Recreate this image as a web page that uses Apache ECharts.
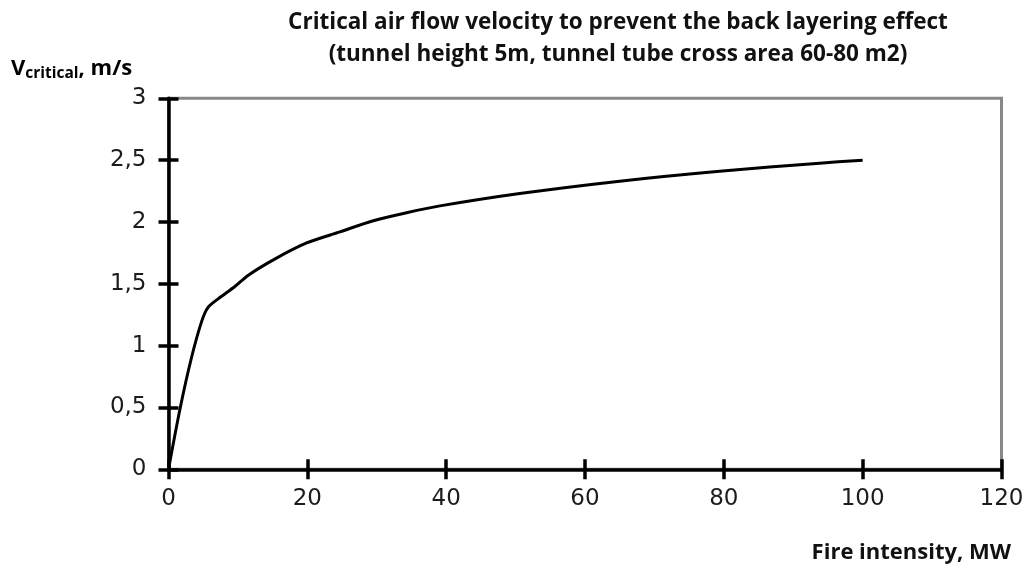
<!DOCTYPE html>
<html>
<head>
<meta charset="utf-8">
<script src="https://cdn.jsdelivr.net/npm/echarts@6/dist/echarts.min.js"></script>
<style>
  html, body { margin: 0; padding: 0; background: #fff; }
  #chart { width: 1031px; height: 573px; }
</style>
</head>
<body>
<div id="chart"></div>
<script>
// Fire intensity (MW) and critical velocity (m/s)
const fireIntensity = [0, 1.7, 3.3, 4.8, 5.7, 7.2, 9.6, 11.5, 15.3, 19.9, 24.7, 29.5, 34.3, 39.1, 50.6, 65, 79.4, 93.8, 100];
const criticalVelocity = [0, 0.5, 0.9, 1.2, 1.31, 1.38, 1.48, 1.57, 1.70, 1.83, 1.92, 2.01, 2.075, 2.13, 2.23, 2.33, 2.41, 2.475, 2.5];

const titleLines = [
  'Critical air flow velocity to prevent the back layering effect',
  '(tunnel height 5m, tunnel tube cross area 60-80 m2)'
];
const xName = 'Fire intensity, MW';

const chart = echarts.init(document.getElementById('chart'), null, { renderer: 'canvas' });

const labelFont = { fontFamily: 'DejaVu Sans, sans-serif', fontSize: 23, color: '#1c1c1c' };
const boldFont = 'Open Sans, Noto Sans, sans-serif';

const baseX = { type: 'value', min: 0, max: 120, interval: 20, splitLine: { show: false } };
const baseY = { type: 'value', min: 0, max: 3, interval: 0.5, splitLine: { show: false } };

chart.setOption({
  animation: false,
  backgroundColor: '#fff',
  title: {
    text: titleLines.join('\n'),
    left: 613,
    top: 2,
    textAlign: 'center',
    textStyle: { fontFamily: boldFont, fontWeight: 'bold', fontSize: 22.5, lineHeight: 32, color: '#111' }
  },
  grid: {
    left: 168.5, right: 29.5, top: 98.3, bottom: 103.7,
    show: true, borderColor: '#888', borderWidth: 3, backgroundColor: 'transparent'
  },
  graphic: [
    {
      type: 'text', left: 11, top: 58,
      style: {
        text: '{v|V}{s|critical}{u|, m/s}',
        rich: {
          v: { fontFamily: boldFont, fontWeight: 'bold', fontSize: 22, color: '#111', verticalAlign: 'bottom', lineHeight: 28 },
          s: { fontFamily: boldFont, fontWeight: 'bold', fontSize: 15.5, color: '#111', verticalAlign: 'bottom', lineHeight: 28, padding: [0, 0, -2, 0] },
          u: { fontFamily: boldFont, fontWeight: 'bold', fontSize: 22, color: '#111', verticalAlign: 'bottom', lineHeight: 28 }
        }
      }
    },
    {
      type: 'text', right: 20, top: 542,
      style: { text: xName, fontFamily: boldFont, fontWeight: 'bold', fontSize: 22, fill: '#111' }
    }
  ],
  xAxis: [
    Object.assign({}, baseX, {
      position: 'bottom',
      axisLine: { show: true, onZero: false, lineStyle: { color: '#000', width: 3.5 } },
      axisTick: { show: true, inside: false, length: 10, lineStyle: { color: '#000', width: 3.5 } },
      axisLabel: Object.assign({ margin: 18 }, labelFont)
    }),
    Object.assign({}, baseX, {
      position: 'bottom',
      axisLine: { show: false },
      axisTick: { show: true, inside: true, length: 10, lineStyle: { color: '#000', width: 3.5 } },
      axisLabel: { show: false }
    })
  ],
  yAxis: [
    Object.assign({}, baseY, {
      position: 'left',
      axisLine: { show: true, onZero: false, lineStyle: { color: '#000', width: 3.5 } },
      axisTick: { show: true, inside: false, length: 10, lineStyle: { color: '#000', width: 3.5 } },
      axisLabel: Object.assign({ margin: 22, formatter: v => String(v).replace('.', ',') }, labelFont)
    }),
    Object.assign({}, baseY, {
      position: 'left',
      axisLine: { show: false },
      axisTick: { show: true, inside: true, length: 10, lineStyle: { color: '#000', width: 3.5 } },
      axisLabel: { show: false }
    })
  ],
  series: [{
    type: 'line',
    xAxisIndex: 0,
    yAxisIndex: 0,
    data: fireIntensity.map((x, i) => [x, criticalVelocity[i]]),
    showSymbol: false,
    smooth: 0.3,
    lineStyle: { color: '#000', width: 3 },
    z: 3
  }]
});
</script>
</body>
</html>
